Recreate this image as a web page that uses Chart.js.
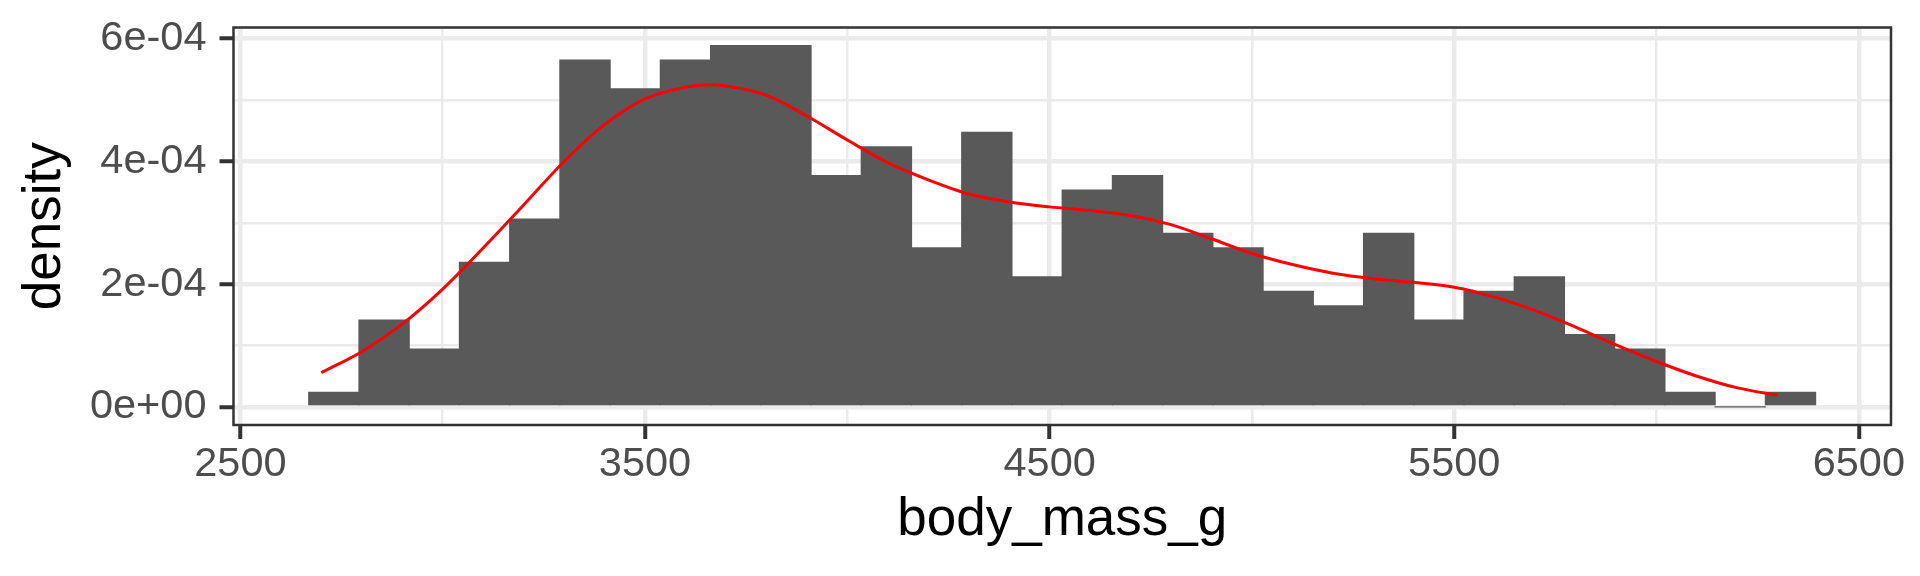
<!DOCTYPE html>
<html>
<head>
<meta charset="utf-8">
<script src="https://cdn.jsdelivr.net/npm/chart.js@4.4.0/dist/chart.umd.min.js"></script>
<style>
  html, body { margin: 0; padding: 0; background: #ffffff; }
  #chart { display: block; }
</style>
</head>
<body>
<canvas id="chart" width="1920" height="576"></canvas>
<script>
// Histogram bins (bin centre in g) and density of each bin
const binCenters = [
  2731.0, 2855.2, 2979.3, 3103.4, 3227.6, 3351.7, 3475.9, 3600.0, 3724.1, 3848.3,
  3972.4, 4096.6, 4220.7, 4344.8, 4469.0, 4593.1, 4717.2, 4841.4, 4965.5, 5089.7,
  5213.8, 5337.9, 5462.1, 5586.2, 5710.3, 5834.5, 5958.6, 6082.8, 6206.9, 6331.0,
];
const binDensity = [
  2.36e-5, 1.413e-4, 9.42e-5, 2.355e-4, 3.062e-4, 5.653e-4, 5.182e-4, 5.653e-4, 5.889e-4, 5.889e-4,
  3.769e-4, 4.24e-4, 2.591e-4, 4.475e-4, 2.12e-4, 3.533e-4, 3.769e-4, 2.827e-4, 2.591e-4, 1.884e-4,
  1.649e-4, 2.827e-4, 1.413e-4, 1.884e-4, 2.12e-4, 1.178e-4, 9.42e-5, 2.36e-5, 0, 2.36e-5,
];

// Red density curve
const curveMass = [
  2700, 2800, 2900, 3000, 3100, 3200, 3300, 3400, 3500, 3600, 3660, 3700, 3800,
  3900, 4000, 4100, 4200, 4300, 4400, 4500, 4600, 4700, 4800, 4900, 5000,
  5100, 5200, 5300, 5400, 5500, 5600, 5700, 5800, 5900, 6000, 6100, 6200, 6300,
];
const curveDensity = [
  5.6e-5, 9.0e-5, 1.35e-4, 1.92e-4, 2.59e-4, 3.29e-4, 4.0e-4, 4.6e-4, 5.02e-4, 5.21e-4, 5.25e-4, 5.23e-4, 5.08e-4,
  4.74e-4, 4.35e-4, 3.98e-4, 3.7e-4, 3.47e-4, 3.34e-4, 3.26e-4, 3.2e-4, 3.12e-4, 2.97e-4, 2.74e-4, 2.5e-4,
  2.32e-4, 2.18e-4, 2.09e-4, 2.03e-4, 1.95e-4, 1.79e-4, 1.57e-4, 1.3e-4, 1.01e-4, 7.4e-5, 5.0e-5, 3.1e-5, 1.9e-5,
];

// Axis ticks (empty label = minor grid line only)
const xTickValues = [2500, 3000, 3500, 4000, 4500, 5000, 5500, 6000, 6500];
const xTickLabels = ["2500", "", "3500", "", "4500", "", "5500", "", "6500"];
const yTickValues = [0, 1e-4, 2e-4, 3e-4, 4e-4, 5e-4, 6e-4];
const yTickLabels = ["0e+00", "", "2e-04", "", "4e-04", "", "6e-04"];

const fontFamily = "'Liberation Sans', Arial, sans-serif";

// ggplot-like panel border
const panelBorder = {
  id: "panelBorder",
  afterDraw(chart) {
    const { ctx, chartArea } = chart;
    ctx.save();
    ctx.strokeStyle = "#333333";
    ctx.lineWidth = 2.5;
    ctx.strokeRect(chartArea.left, chartArea.top, chartArea.right - chartArea.left, chartArea.bottom - chartArea.top);
    ctx.restore();
  },
};

const isMajor = (labels) => (context) => context.tick && labels[context.index] !== "";

const xMajor = isMajor(xTickLabels);
const yMajor = isMajor(yTickLabels);

new Chart(document.getElementById("chart"), {
  type: "bar",
  data: {
    datasets: [
      {
        type: "line",
        data: curveMass.map((x, i) => ({ x: x, y: curveDensity[i] })),
        borderColor: "#FF0000",
        borderWidth: 3,
        pointRadius: 0,
        fill: false,
        cubicInterpolationMode: "monotone",
        order: 0,
      },
      {
        type: "bar",
        data: binCenters.map((x, i) => ({ x: x, y: binDensity[i] })),
        backgroundColor: "#595959",
        borderWidth: 0,
        inflateAmount: 0.6,
        barPercentage: 1,
        categoryPercentage: 1,
        order: 1,
      },
    ],
  },
  plugins: [panelBorder],
  options: {
    responsive: false,
    animation: false,
    devicePixelRatio: 1,
    layout: { padding: { left: 0, right: 29, top: 27.5, bottom: 0 } },
    plugins: {
      legend: { display: false },
      tooltip: { enabled: false },
    },
    scales: {
      x: {
        type: "linear",
        min: 2483.0,
        max: 6579.4,
        offset: false,
        border: { display: false },
        grid: {
          offset: false,
          color: "#EBEBEB",
          lineWidth: (c) => (xMajor(c) ? 4.5 : 2.5),
          drawTicks: true,
          tickLength: 14,
          tickWidth: 4,
          tickColor: (c) => (xMajor(c) ? "#333333" : "rgba(0,0,0,0)"),
        },
        afterBuildTicks: (scale) => {
          scale.ticks = xTickValues.map((v) => ({ value: v }));
        },
        afterFit: (scale) => {
          scale.height = 151;
          scale.paddingLeft = 0;
          scale.paddingRight = 0;
        },
        ticks: {
          autoSkip: false,
          maxRotation: 0,
          padding: 1,
          color: "#4D4D4D",
          font: { family: fontFamily, size: 41.5 },
          callback: (value, index) => xTickLabels[index],
        },
        title: {
          display: true,
          text: "body_mass_g",
          color: "#000000",
          font: { family: fontFamily, size: 53 },
          padding: { top: 0, bottom: 24 },
        },
      },
      y: {
        type: "linear",
        min: -2.944e-5,
        max: 6.183e-4,
        border: { display: false },
        grid: {
          color: "#EBEBEB",
          lineWidth: (c) => (yMajor(c) ? 4.5 : 2.5),
          drawTicks: true,
          tickLength: 14,
          tickWidth: 4,
          tickColor: (c) => (yMajor(c) ? "#333333" : "rgba(0,0,0,0)"),
        },
        afterBuildTicks: (scale) => {
          scale.ticks = yTickValues.map((v) => ({ value: v }));
        },
        afterFit: (scale) => {
          scale.width = 233.5;
          scale.paddingTop = 0;
          scale.paddingBottom = 0;
        },
        ticks: {
          autoSkip: false,
          padding: 13,
          color: "#4D4D4D",
          font: { family: fontFamily, size: 41.5 },
          callback: (value, index) => yTickLabels[index],
        },
        title: {
          display: true,
          text: "density",
          color: "#000000",
          font: { family: fontFamily, size: 53 },
          padding: { top: 14, bottom: 0 },
        },
      },
    },
  },
});
</script>
</body>
</html>
